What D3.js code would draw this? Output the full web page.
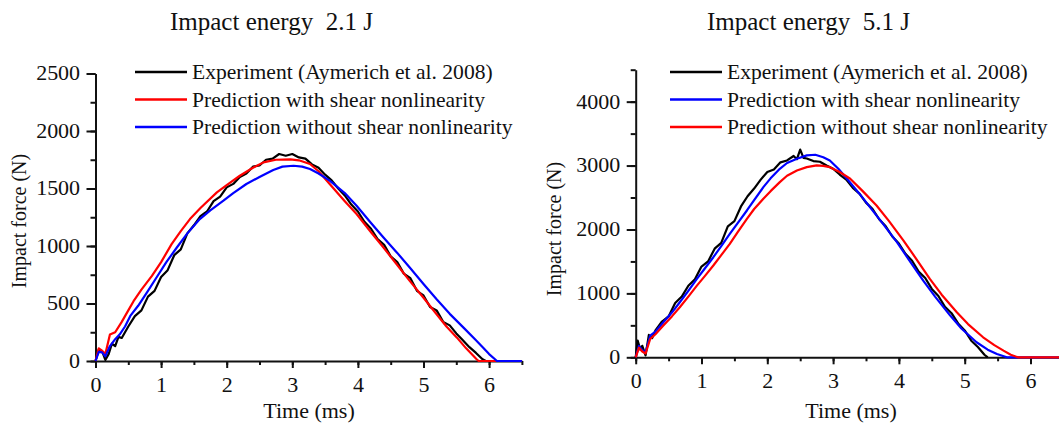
<!DOCTYPE html>
<html>
<head>
<meta charset="utf-8">
<script src="https://cdn.jsdelivr.net/npm/d3@7"></script>
<style>
  body { margin: 0; background: #fff; }
  text { font-family: "Liberation Serif", "Times New Roman", serif; fill: #111; white-space: pre; }
</style>
</head>
<body>
<svg id="chart" width="1059" height="423"></svg>
<script>
// Libellés
const legendLabels = ["Experiment (Aymerich et al. 2008)", "Prediction with shear nonlinearity", "Prediction without shear nonlinearity"];
const panelTitles = ["Impact energy  2.1 J", "Impact energy  5.1 J"];
const xTicks = [0, 1, 2, 3, 4, 5, 6];
const yTicksLeft = [0, 500, 1000, 1500, 2000, 2500];
const yTicksRight = [0, 1000, 2000, 3000, 4000];

// 2.1 J : essai (bruité), avec non-linéarité, sans non-linéarité  [t (ms), F (N)]
const exp21 = [[0,0],[0.05,100],[0.1,85],[0.15,10],[0.2,60],[0.25,150],[0.3,130],[0.35,210],[0.4,200],[0.5,300],[0.6,390],[0.7,440],[0.8,560],[0.9,610],[1.0,730],[1.1,790],[1.2,920],[1.3,970],[1.4,1110],[1.5,1180],[1.6,1260],[1.7,1300],[1.8,1390],[1.9,1430],[2.0,1510],[2.1,1540],[2.2,1600],[2.3,1630],[2.4,1690],[2.5,1700],[2.6,1750],[2.7,1760],[2.8,1800],[2.9,1785],[3.0,1800],[3.1,1770],[3.2,1760],[3.3,1710],[3.4,1680],[3.5,1620],[3.6,1570],[3.7,1500],[3.8,1440],[3.9,1360],[4.0,1300],[4.1,1210],[4.2,1150],[4.3,1060],[4.4,1010],[4.5,910],[4.6,860],[4.7,760],[4.8,720],[4.9,610],[5.0,570],[5.1,470],[5.2,440],[5.3,340],[5.4,310],[5.5,240],[5.6,180],[5.7,120],[5.8,70],[5.9,15],[5.95,0],[6.0,0]];
const withNl21 = [[0,0],[0.05,110],[0.1,90],[0.15,60],[0.22,230],[0.3,250],[0.4,340],[0.5,440],[0.58,520],[0.7,620],[0.86,740],[1.0,860],[1.16,1016],[1.3,1130],[1.44,1234],[1.6,1330],[1.85,1466],[2.0,1530],[2.2,1611],[2.4,1680],[2.56,1727],[2.75,1750],[2.97,1753],[3.1,1745],[3.27,1713],[3.4,1650],[3.57,1539],[3.8,1390],[3.98,1278],[4.2,1120],[4.39,987],[4.6,835],[4.79,697],[5.0,550],[5.2,407],[5.35,300],[5.51,203],[5.65,110],[5.81,15],[5.84,0],[6.5,0]];
const withoutNl21 = [[0,0],[0.05,80],[0.1,75],[0.15,40],[0.22,130],[0.3,190],[0.37,232],[0.45,300],[0.53,392],[0.65,480],[0.8,610],[0.93,726],[1.08,860],[1.24,987],[1.4,1110],[1.59,1234],[1.75,1310],[1.95,1394],[2.1,1460],[2.3,1539],[2.5,1600],[2.71,1661],[2.85,1690],[3.02,1698],[3.15,1690],[3.27,1669],[3.4,1630],[3.57,1568],[3.8,1460],[3.98,1350],[4.2,1200],[4.39,1074],[4.6,940],[4.79,813],[5.0,670],[5.2,537],[5.4,410],[5.61,290],[5.8,180],[5.91,116],[6.0,60],[6.12,0],[6.5,0]];

// 5.1 J
const exp51 = [[0,0],[0.03,260],[0.07,120],[0.1,180],[0.15,30],[0.2,350],[0.25,300],[0.3,420],[0.4,560],[0.5,640],[0.6,850],[0.7,950],[0.8,1120],[0.9,1220],[1.0,1420],[1.1,1500],[1.2,1700],[1.3,1790],[1.4,2050],[1.5,2130],[1.6,2360],[1.7,2520],[1.8,2640],[1.9,2780],[2.0,2900],[2.1,2940],[2.2,3050],[2.3,3080],[2.4,3150],[2.45,3100],[2.5,3250],[2.55,3120],[2.6,3110],[2.7,3070],[2.8,3060],[2.9,3000],[3.0,2950],[3.1,2860],[3.2,2780],[3.3,2650],[3.4,2560],[3.5,2420],[3.6,2320],[3.7,2160],[3.8,2050],[3.9,1890],[4.0,1780],[4.1,1620],[4.2,1510],[4.3,1340],[4.4,1240],[4.5,1070],[4.6,960],[4.7,790],[4.8,690],[4.9,530],[5.0,420],[5.1,260],[5.2,160],[5.3,40],[5.35,0]];
const withNl51 = [[0,0],[0.05,180],[0.1,110],[0.15,80],[0.22,339],[0.3,400],[0.42,548],[0.55,700],[0.67,861],[0.8,1040],[0.93,1227],[1.05,1390],[1.18,1566],[1.3,1740],[1.43,1931],[1.55,2100],[1.69,2297],[1.8,2460],[1.94,2662],[2.05,2800],[2.19,2949],[2.3,3040],[2.45,3106],[2.6,3160],[2.73,3169],[2.85,3130],[2.95,3080],[3.08,2950],[3.21,2793],[3.4,2560],[3.56,2349],[3.75,2100],[3.97,1801],[4.15,1530],[4.37,1201],[4.55,950],[4.78,653],[4.95,450],[5.18,235],[5.35,120],[5.49,52],[5.64,0],[6.5,0]];
const withoutNl51 = [[0,0],[0.05,150],[0.1,90],[0.15,60],[0.22,287],[0.3,360],[0.42,496],[0.55,640],[0.67,783],[0.8,950],[0.93,1122],[1.05,1270],[1.18,1436],[1.3,1600],[1.43,1775],[1.55,1960],[1.69,2166],[1.8,2320],[1.94,2480],[2.05,2600],[2.19,2741],[2.3,2840],[2.45,2923],[2.6,2975],[2.75,3002],[2.85,2995],[2.95,2975],[3.1,2900],[3.26,2793],[3.45,2600],[3.66,2375],[3.85,2130],[4.07,1827],[4.25,1560],[4.47,1227],[4.65,980],[4.88,705],[5.05,520],[5.28,313],[5.45,190],[5.59,104],[5.7,40],[5.81,0],[6.5,0]];

const svg = d3.select("#chart");
const SX = 1.1; // le texte de la figure d'origine est un peu étiré en largeur

// Texte étiré horizontalement
function stretchedText(g, x, y, str, size, anchor, sx) {
    return g.append("text")
        .attr("transform", `translate(${x},${y}) scale(${sx || SX},1)`)
        .attr("text-anchor", anchor || "start")
        .style("font-size", size + "px")
        .text(str);
}

// Dessin d'un panneau
function drawPanel(p) {
    const x = d3.scaleLinear().domain([0, 6.5]).range([p.x0, p.x1]);
    const y = d3.scaleLinear().domain([0, p.yMax]).range([p.y0, p.y1]);
    const g = svg.append("g");

    // ticks mineurs
    g.append("g").attr("transform", `translate(0,${p.y0})`)
        .call(d3.axisBottom(x).tickValues(d3.range(0, 6.51, 0.5)).tickSize(4).tickFormat(""))
        .call(a => a.select(".domain").remove());
    g.append("g").attr("transform", `translate(${p.x0},0)`)
        .call(d3.axisLeft(y).tickValues(d3.range(0, p.yMax + 1, p.minor)).tickSize(5).tickFormat(""))
        .call(a => a.select(".domain").remove());

    // axes principaux
    const xa = g.append("g").attr("transform", `translate(0,${p.y0})`)
        .call(d3.axisBottom(x).tickValues(xTicks).tickFormat(d3.format("d"))
            .tickSize(7).tickSizeOuter(0).tickPadding(10));
    const ya = g.append("g").attr("transform", `translate(${p.x0},0)`)
        .call(d3.axisLeft(y).tickValues(p.yTicks).tickFormat(d3.format("d"))
            .tickSize(9).tickSizeOuter(0).tickPadding(5));
    g.selectAll(".tick line, .domain").attr("stroke", "#111").attr("stroke-width", 2);
    [xa, ya].forEach(a => a.selectAll("text")
        .attr("transform", `scale(${SX},1)`)
        .style("font-family", "Liberation Serif").style("font-size", "20px").attr("fill", "#111"));

    // courbes
    const line = d3.line().x(d => x(d[0])).y(d => y(d[1]));
    p.series.forEach((s, i) => {
        g.append("path").datum(s).attr("d", line)
            .attr("fill", "none").attr("stroke", p.colors[i]).attr("stroke-width", 2.2)
            .attr("stroke-linejoin", "round");
    });

    // titres
    g.append("text").attr("x", p.titleX).attr("y", 30).style("font-size", "25px").text(p.title);
    stretchedText(g, p.timeX, 418, "Time (ms)", 20, "middle");
    g.append("text").attr("transform", `translate(${p.labelX},${p.labelY}) rotate(-90)`)
        .attr("text-anchor", "middle").style("font-size", "20px").text("Impact force (N)");

    // légende
    legendLabels.forEach((lab, i) => {
        const ly = 72 + i * 27.5;
        g.append("line").attr("x1", p.legX).attr("x2", p.legX + 52).attr("y1", ly).attr("y2", ly)
            .attr("stroke", p.colors[i]).attr("stroke-width", 2.5);
        stretchedText(g, p.legX + 57, ly + 7, lab, 20, "start", 1.08);
    });
}

drawPanel({
    x0: 95.5, x1: 521.9, y0: 361, y1: 73.5, yMax: 2500, minor: 250, yTicks: yTicksLeft,
    series: [exp21, withNl21, withoutNl21], colors: ["#000", "#ff0000", "#0000ff"],
    title: panelTitles[0], titleX: 170, timeX: 309, labelX: 26, labelY: 221, legX: 135
});
drawPanel({
    x0: 635.7, x1: 1063.4, y0: 357.3, y1: 69.7, yMax: 4500, minor: 500, yTicks: yTicksRight,
    series: [exp51, withNl51, withoutNl51], colors: ["#000", "#0000ff", "#ff0000"],
    title: panelTitles[1], titleX: 707, timeX: 851, labelX: 561, labelY: 229, legX: 670
});
</script>
</body>
</html>
